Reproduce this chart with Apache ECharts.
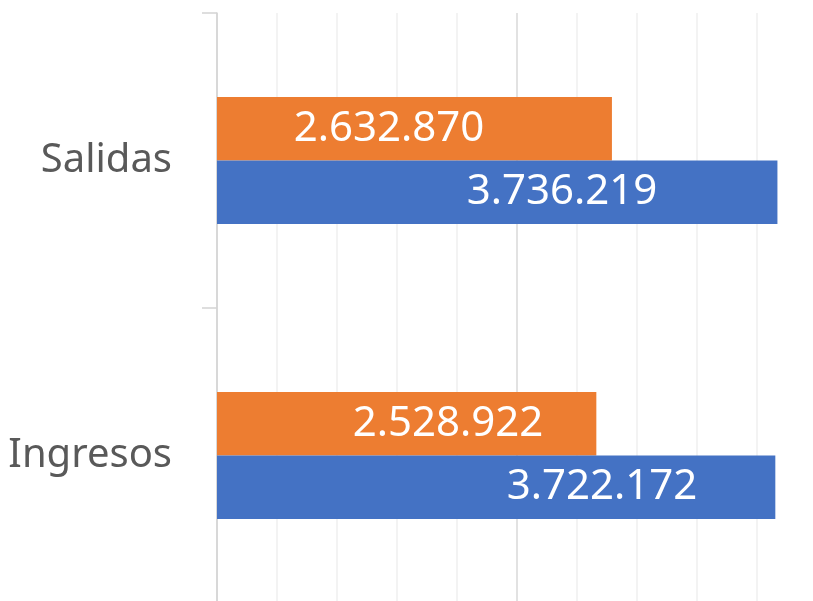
<!DOCTYPE html>
<html>
<head>
<meta charset="utf-8">
<script src="https://cdn.jsdelivr.net/npm/echarts@6/dist/echarts.min.js"></script>
<style>
  html, body { margin: 0; padding: 0; background: #fff; }
  #chart { width: 813px; height: 601px; }
</style>
</head>
<body>
<div id="chart"></div>
<script>
var categories = ['Ingresos', 'Salidas'];
var orangeValues = [2528922, 2632870];
var blueValues = [3722172, 3736219];

// label centres (px from bar start)
var orangeLabelX = [231, 172];
var blueLabelX = [385, 345];

function fmt(v) {
  return String(v).replace(/\B(?=(\d{3})+(?!\d))/g, '.');
}

function withLabels(values, xs) {
  return values.map(function (v, i) {
    return { value: v, label: { position: [xs[i], '50%'] } };
  });
}

var myChart = echarts.init(document.getElementById('chart'));
var font = '"Noto Sans", "Open Sans", sans-serif';
var option = {
  animation: false,
  grid: { left: 217, right: -4, top: 13, bottom: -2, outerBoundsMode: 'none', containLabel: false },
  xAxis: {
    type: 'value',
    min: 0,
    max: 4000000,
    interval: 400000,
    axisLabel: { show: false },
    axisLine: { show: false },
    axisTick: { show: false },
    splitLine: {
      show: true,
      lineStyle: { color: ['#d9d9d9', '#efefef', '#efefef', '#efefef', '#efefef'], width: 1.5 }
    }
  },
  yAxis: {
    type: 'category',
    data: categories,
    axisLine: { show: true, lineStyle: { color: '#d4d4d4', width: 1.5 } },
    axisTick: { show: true, alignWithLabel: false, length: 15, lineStyle: { color: '#d4d4d4', width: 1.5 } },
    axisLabel: { color: '#595959', fontSize: 40, fontFamily: font, margin: 45 }
  },
  series: [
    {
      name: 'orange',
      type: 'bar',
      data: withLabels(orangeValues, orangeLabelX),
      itemStyle: { color: '#ED7D31' },
      barGap: 0,
      barCategoryGap: '57%',
      label: {
        show: true, color: '#fff', fontSize: 42, fontFamily: font,
        align: 'center', verticalAlign: 'middle',
        formatter: function (p) { return fmt(p.value); }
      }
    },
    {
      name: 'blue',
      type: 'bar',
      data: withLabels(blueValues, blueLabelX),
      itemStyle: { color: '#4472C4' },
      barGap: 0,
      barCategoryGap: '57%',
      label: {
        show: true, color: '#fff', fontSize: 42, fontFamily: font,
        align: 'center', verticalAlign: 'middle',
        formatter: function (p) { return fmt(p.value); }
      }
    }
  ]
};
myChart.setOption(option);
</script>
</body>
</html>
